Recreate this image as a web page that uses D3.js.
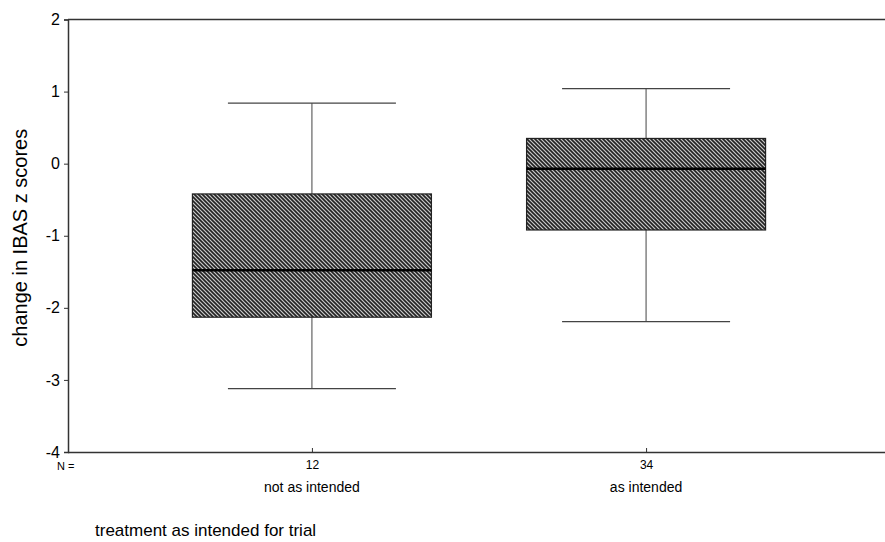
<!DOCTYPE html>
<html>
<head>
<meta charset="utf-8">
<script src="https://cdn.jsdelivr.net/npm/d3@7"></script>
<style>
  body { margin: 0; background: #fff; }
  svg { display: block; font-family: "Liberation Sans", Arial, sans-serif; }
</style>
</head>
<body>
<svg width="885" height="542"></svg>
<script>

let categories = ['not as intended', 'as intended'];
let counts = [12, 34];
let lowWhisker = [-3.12, -2.19];
let q1 = [-2.13, -0.92];
let median = [-1.48, -0.07];
let q3 = [-0.42, 0.35];
let highWhisker = [0.84, 1.04];
let yTicks = [2, 1, 0, -1, -2, -3, -4];

let svg = d3.select('svg');

let defs = svg.append('defs');
let pat = defs.append('pattern')
              .attr('id', 'hatch')
              .attr('patternUnits', 'userSpaceOnUse')
              .attr('width', 4)
              .attr('height', 4);
pat.append('rect').attr('width', 4).attr('height', 4).attr('fill', '#c8c8c8');
pat.append('path')
   .attr('d', 'M0,0 L4,4 M-1,3 L1,5 M3,-1 L5,1')
   .attr('stroke', '#222')
   .attr('stroke-width', 1.6);

let xScale = d3.scalePoint()
               .domain(categories)
               .range([68, 890])
               .padding(0.73);

let yScale = d3.scaleLinear()
               .domain([-4, 2])
               .range([452, 19.5]);

let boxW = 239;
let capW = 168;

// y axis
let yAxis = d3.axisLeft(yScale)
              .tickValues(yTicks)
              .tickSize(4)
              .tickFormat(function(d) { return String(d); });

let yG = svg.append('g')
            .attr('transform', 'translate(68,0)')
            .call(yAxis);
yG.select('.domain').attr('stroke', '#333').attr('stroke-width', 1.5);
yG.selectAll('.tick line').attr('stroke', '#333');
yG.selectAll('.tick text')
  .attr('font-size', 16)
  .attr('font-family', '"Liberation Sans", Arial, sans-serif')
  .attr('fill', '#000')
  .attr('x', -8);

// bottom axis
let xAxis = d3.axisBottom(xScale)
              .tickSize(4)
              .tickSizeOuter(0)
              .tickFormat(function(d, i) { return counts[i]; });

let xG = svg.append('g')
            .attr('transform', 'translate(0,452)')
            .call(xAxis);
xG.select('.domain').attr('stroke', '#333').attr('stroke-width', 1.5)
  .attr('d', 'M68,0.5H885');
xG.selectAll('.tick line').attr('stroke', '#333').attr('y1', -4).attr('y2', 0);
xG.selectAll('.tick text')
  .attr('font-size', 12)
  .attr('font-family', '"Liberation Sans", Arial, sans-serif')
  .attr('fill', '#000')
  .attr('y', 8);

// top frame line
svg.append('line')
   .attr('x1', 68).attr('x2', 885)
   .attr('y1', yScale(2)).attr('y2', yScale(2))
   .attr('stroke', '#333')
   .attr('stroke-width', 1.5);

// category names
svg.append('g')
   .selectAll('text')
   .data(categories)
   .join('text')
   .attr('x', function(d) { return xScale(d); })
   .attr('y', 492)
   .attr('text-anchor', 'middle')
   .attr('font-size', 14)
   .attr('fill', '#000')
   .text(function(d) { return d; });

svg.append('text')
   .attr('x', 57)
   .attr('y', 470)
   .attr('font-size', 11)
   .attr('fill', '#000')
   .text('N =');

// boxes
let boxes = svg.append('g')
               .selectAll('g')
               .data(categories)
               .join('g');

boxes.append('line')
     .attr('x1', function(d) { return xScale(d); })
     .attr('x2', function(d) { return xScale(d); })
     .attr('y1', function(d, i) { return yScale(highWhisker[i]); })
     .attr('y2', function(d, i) { return yScale(lowWhisker[i]); })
     .attr('stroke', '#444')
     .attr('stroke-width', 1);

boxes.selectAll('.cap')
     .data(function(d, i) { return [[d, highWhisker[i]], [d, lowWhisker[i]]]; })
     .join('line')
     .attr('class', 'cap')
     .attr('x1', function(d) { return xScale(d[0]) - capW / 2; })
     .attr('x2', function(d) { return xScale(d[0]) + capW / 2; })
     .attr('y1', function(d) { return yScale(d[1]); })
     .attr('y2', function(d) { return yScale(d[1]); })
     .attr('stroke', '#444')
     .attr('stroke-width', 1.2);

boxes.append('rect')
     .attr('x', function(d) { return xScale(d) - boxW / 2; })
     .attr('width', boxW)
     .attr('y', function(d, i) { return yScale(q3[i]); })
     .attr('height', function(d, i) { return yScale(q1[i]) - yScale(q3[i]); })
     .attr('fill', 'url(#hatch)')
     .attr('stroke', '#222')
     .attr('stroke-width', 1.2);

boxes.append('line')
     .attr('x1', function(d) { return xScale(d) - boxW / 2; })
     .attr('x2', function(d) { return xScale(d) + boxW / 2; })
     .attr('y1', function(d, i) { return yScale(median[i]); })
     .attr('y2', function(d, i) { return yScale(median[i]); })
     .attr('stroke', '#000')
     .attr('stroke-width', 2.5);

// axis titles
svg.append('text')
   .attr('transform', 'translate(27,' + (yScale(-1) + 2) + ') rotate(-90)')
   .attr('text-anchor', 'middle')
   .attr('font-size', 20)
   .attr('fill', '#000')
   .text('change in IBAS z scores');

svg.append('text')
   .attr('x', 95)
   .attr('y', 536)
   .attr('font-size', 17)
   .attr('fill', '#000')
   .text('treatment as intended for trial');

</script>
</body>
</html>
